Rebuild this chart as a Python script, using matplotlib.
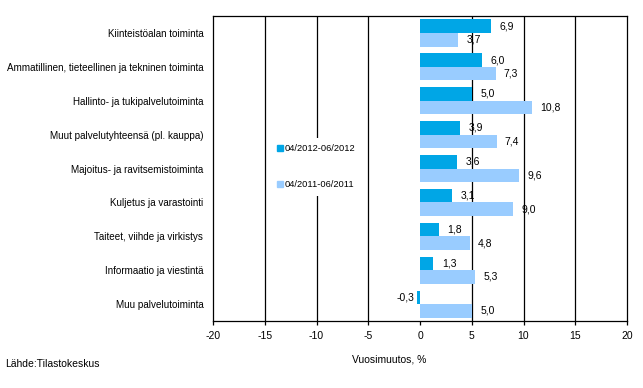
import numpy as np
import matplotlib
matplotlib.use("Agg")
import matplotlib.pyplot as plt
from matplotlib.lines import Line2D

plt.rcParams['font.family'] = ['Liberation Sans', 'DejaVu Sans']

categories = ["Kiinteistöalan toiminta",
              "Ammatillinen, tieteellinen ja tekninen toiminta",
              "Hallinto- ja tukipalvelutoiminta",
              "Muut palvelutyhteensä (pl. kauppa)",
              "Majoitus- ja ravitsemistoiminta",
              "Kuljetus ja varastointi",
              "Taiteet, viihde ja virkistys",
              "Informaatio ja viestintä",
              "Muu palvelutoiminta"]
series_2012 = [6.9, 6.0, 5.0, 3.9, 3.6, 3.1, 1.8, 1.3, -0.3]
series_2011 = [3.7, 7.3, 10.8, 7.4, 9.6, 9.0, 4.8, 5.3, 5.0]
labels = ["04/2012-06/2012", "04/2011-06/2011"]
xticks = [-20, -15, -10, -5, 0, 5, 10, 15, 20]

col_dark = '#00A6E6'
col_light = '#99CCFF'

fig = plt.figure(figsize=(6.43, 3.88), dpi=100)
ax = fig.add_axes([213/643, 67/388, 414/643, 305/388])

y = np.arange(len(categories))
h = 0.4
ax.barh(y - h/2, series_2012, height=h, color=col_dark, zorder=2)
ax.barh(y + h/2, series_2011, height=h, color=col_light, zorder=2)

# value labels, finnish decimal comma
def lab(v):
    return f"{v:.1f}".replace('.', ',')

for yy, vals in ((y - h/2, series_2012), (y + h/2, series_2011)):
    for yi, v in zip(yy, vals):
        if v >= 0:
            ax.annotate(lab(v), (v, yi), xytext=(6, 0), textcoords='offset points',
                        ha='left', va='center', fontsize=7.5, zorder=4)
        else:
            ax.annotate(lab(v), (v, yi), xytext=(-2, 0), textcoords='offset points',
                        ha='right', va='center', fontsize=7.5, zorder=4)

# gridlines except at zero and the frame
for t in xticks[1:-1]:
    if t != 0:
        ax.axvline(t, color='black', lw=0.9, zorder=1)

ax.set_xlim(-20, 20)
ax.set_ylim(len(categories) - 0.5, -0.5)
ax.set_xticks(xticks)
ax.set_xticklabels([str(t) for t in xticks], fontsize=7.5)
ax.set_yticks(y)
ax.set_yticklabels(categories, fontsize=7.15)
ax.tick_params(axis='y', length=0, pad=7)
ax.tick_params(axis='x', length=3, width=0.9, direction='out', pad=4)
for s in ax.spines.values():
    s.set_linewidth(0.9)

handles = [Line2D([], [], marker='s', ls='none', color=col_dark, markersize=5),
           Line2D([], [], marker='s', ls='none', color=col_light, markersize=5)]
leg = ax.legend(handles, labels, loc='center left', bbox_to_anchor=(0.128, 0.505),
                fontsize=6.7, frameon=True, facecolor='white', edgecolor='none',
                framealpha=1, fancybox=False, handlelength=0.6, handletextpad=0.2,
                labelspacing=2.9, borderpad=0.7)
leg.set_zorder(5)

fig.text(352/643, 1 - 360/388, "Vuosimuutos, %", fontsize=7.5, ha='left', va='center')
fig.text(5/643, 1 - 364/388, "Lähde:Tilastokeskus", fontsize=7.5, ha='left', va='center')

fig.savefig("out.png", dpi=100)
